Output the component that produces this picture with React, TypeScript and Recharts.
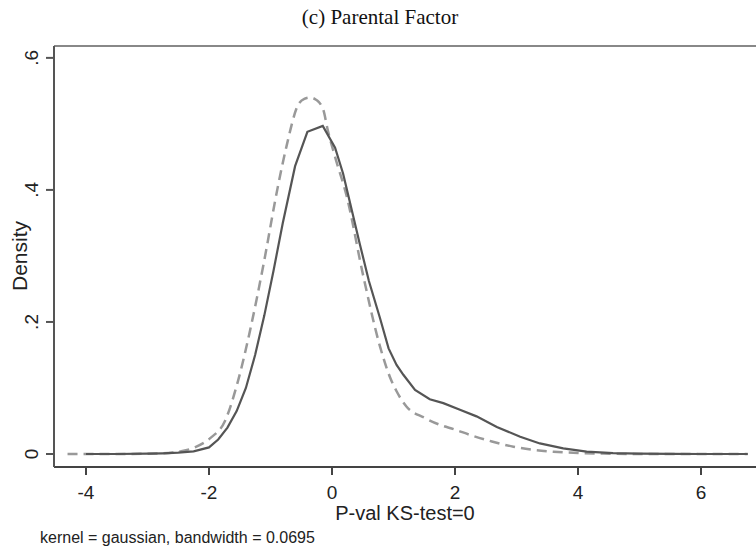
import { LineChart, Line, XAxis, YAxis, ReferenceLine } from 'recharts'

// kernel density, solid series
const solidX = [-4.0, -3.5, -3.0, -2.75, -2.5, -2.25, -2.0, -1.85, -1.7, -1.55, -1.4, -1.25, -1.1, -0.95, -0.8, -0.6, -0.4, -0.15, 0.05, 0.18, 0.3, 0.45, 0.6, 0.78, 0.92, 1.05, 1.16, 1.35, 1.59, 1.81, 2.08, 2.35, 2.68, 3.06, 3.38, 3.76, 4.14, 4.57, 5.0, 5.5, 6.0, 6.76]
const solidY = [0, 0, 0.0005, 0.001, 0.002, 0.004, 0.01, 0.022, 0.04, 0.065, 0.1, 0.15, 0.21, 0.278, 0.35, 0.436, 0.488, 0.497, 0.464, 0.425, 0.378, 0.319, 0.262, 0.206, 0.16, 0.135, 0.12, 0.097, 0.083, 0.077, 0.067, 0.057, 0.041, 0.026, 0.016, 0.0086, 0.0035, 0.0012, 0.0005, 0.0002, 0, 0]

// kernel density, dashed series
const dashX = [-4.3, -3.5, -3.0, -2.75, -2.47, -2.23, -1.98, -1.74, -1.53, -1.33, -1.12, -0.88, -0.74, -0.55, -0.45, -0.36, -0.25, -0.14, -0.07, 0.05, 0.24, 0.51, 0.78, 0.94, 1.05, 1.21, 1.5, 1.76, 2.0, 2.24, 2.6, 2.95, 3.3, 3.6, 4.0, 4.5, 5.0, 6.0, 6.76]
const dashY = [0, 0, 0.0005, 0.001, 0.004, 0.01, 0.024, 0.05, 0.11, 0.188, 0.284, 0.405, 0.466, 0.529, 0.538, 0.54, 0.536, 0.521, 0.491, 0.45, 0.39, 0.269, 0.163, 0.117, 0.095, 0.072, 0.055, 0.044, 0.037, 0.029, 0.019, 0.011, 0.006, 0.0035, 0.0015, 0.0005, 0, 0, 0]

const xTicks = [-4, -2, 0, 2, 4, 6]
const yTicks = [0, 0.2, 0.4, 0.6]
const yTickLabels = ['0', '.2', '.4', '.6']

const FONT = '"Liberation Sans", Arial, sans-serif'

const solidData = solidX.map((x, i) => ({ x, y: solidY[i] }))
const dashData = dashX.map((x, i) => ({ x, y: dashY[i] }))

function XTick(props: any) {
  const { x, y, payload } = props
  return (
    <text x={x} y={y + 24} textAnchor="middle" fontSize={19} fontFamily={FONT} fill="#222">
      {String(payload.value)}
    </text>
  )
}

function YTick(props: any) {
  const { y, payload } = props
  const idx = yTicks.indexOf(payload.value)
  return (
    <text transform={`translate(38,${y}) rotate(-90)`} textAnchor="middle" fontSize={19} fontFamily={FONT} fill="#222">
      {yTickLabels[idx]}
    </text>
  )
}

export default function App() {
  return (
    <div style={{ position: 'relative', width: 756, height: 548, background: '#fff' }}>
      <style>{'body{margin:0}'}</style>
      <LineChart width={756} height={548} margin={{ top: 46, right: 0, bottom: 0, left: 0 }}>
        <XAxis
          dataKey="x"
          type="number"
          domain={[-4.52, 6.894]}
          ticks={xTicks}
          allowDataOverflow
          height={81}
          tickSize={8}
          tickMargin={0}
          tick={<XTick />}
          stroke="#444"
          strokeWidth={2}
        />
        <YAxis
          type="number"
          domain={[-0.0197, 0.618]}
          ticks={yTicks}
          allowDataOverflow
          width={54}
          tickSize={8}
          tickMargin={0}
          tick={<YTick />}
          stroke="#555"
          strokeWidth={2}
        />
        <ReferenceLine y={0.618} stroke="#888" strokeWidth={2} />
        <Line
          data={dashData}
          dataKey="y"
          type="monotone"
          stroke="#999"
          strokeWidth={2.5}
          strokeDasharray="10 6"
          dot={false}
          isAnimationActive={false}
        />
        <Line
          data={solidData}
          dataKey="y"
          type="linear"
          stroke="#555"
          strokeWidth={2.2}
          dot={false}
          isAnimationActive={false}
        />
      </LineChart>
      <svg width={756} height={548} style={{ position: 'absolute', left: 0, top: 0, pointerEvents: 'none' }}>
        <text x={380} y={24} textAnchor="middle" fontSize={21} fontFamily='"Liberation Serif", "Times New Roman", serif' fill="#111">
          (c) Parental Factor
        </text>
        <text transform="translate(27,256) rotate(-90)" textAnchor="middle" fontSize={21} fontFamily={FONT} fill="#222">
          Density
        </text>
        <text x={405} y={520} textAnchor="middle" fontSize={20} fontFamily={FONT} fill="#222">
          P-val KS-test=0
        </text>
        <text x={40} y={543} fontSize={16} fontFamily={FONT} fill="#222">
          kernel = gaussian, bandwidth = 0.0695
        </text>
      </svg>
    </div>
  )
}
